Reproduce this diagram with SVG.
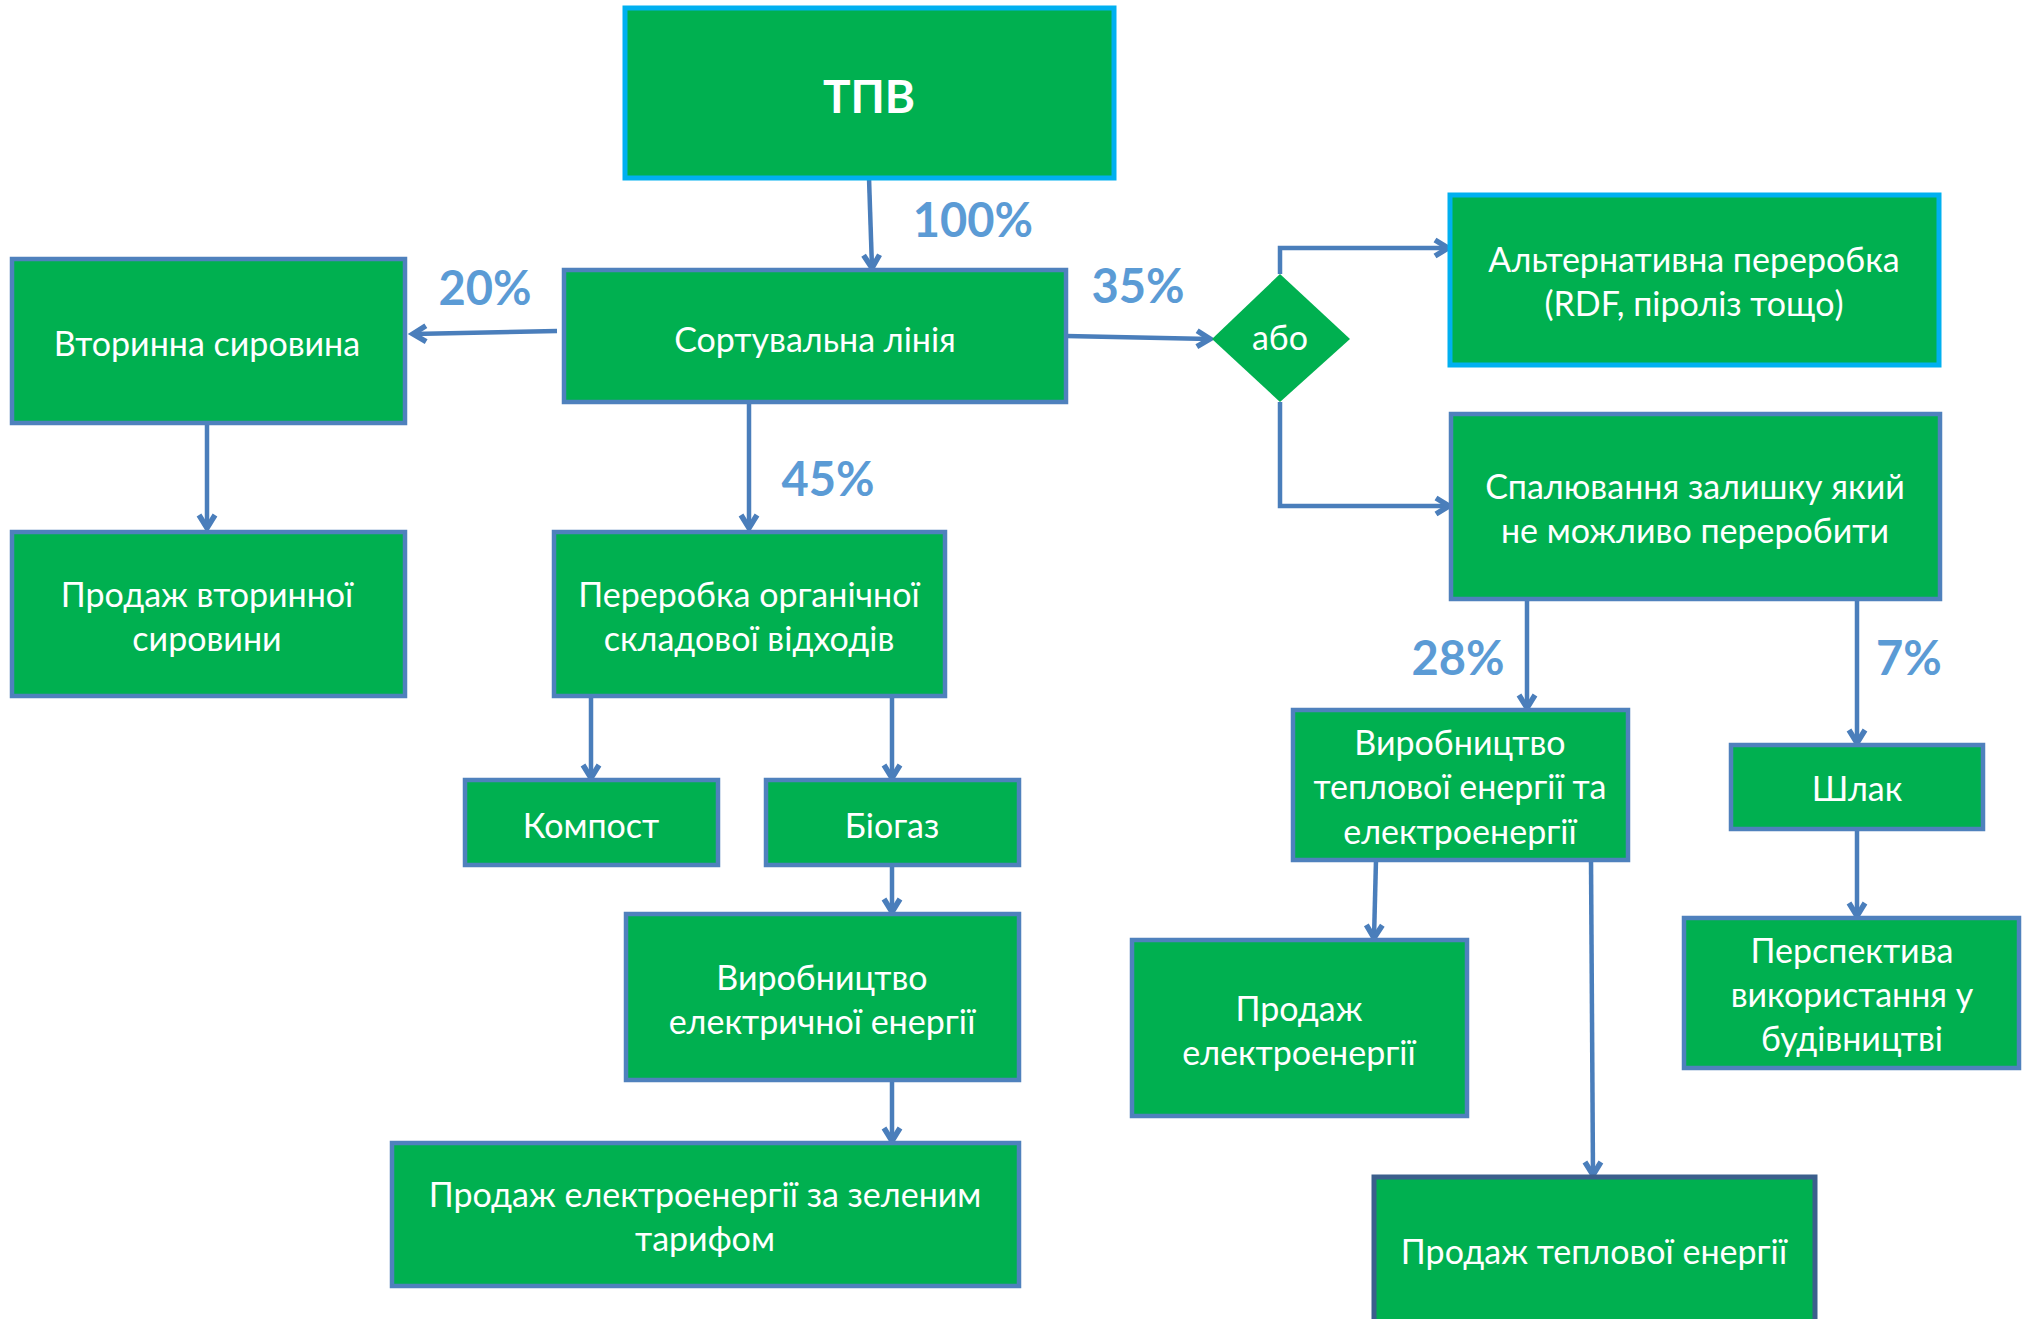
<svg xmlns="http://www.w3.org/2000/svg" width="2028" height="1319" viewBox="0 0 2028 1319">
<defs>
<style>
.n{fill:#00B050;stroke:#4F81BD;stroke-width:4.5}
.c{fill:#00B050;stroke:#00B0F0;stroke-width:5}
.d{fill:#00B050;stroke:#3B5F8C;stroke-width:5}
.t{font-family:Lato,"Liberation Sans",sans-serif;font-size:34px;fill:#FFFFFF;text-anchor:middle}
.b{font-family:Lato,"Liberation Sans",sans-serif;font-size:46px;font-weight:bold;fill:#FFFFFF;text-anchor:middle}
.p{font-family:Lato,"Liberation Sans",sans-serif;font-size:47px;font-weight:bold;fill:#5B9BD5;text-anchor:middle}
.e{fill:none;stroke:#4A7EBB;stroke-width:4.5}
</style>
<marker id="a" markerUnits="userSpaceOnUse" markerWidth="22" markerHeight="22" refX="16" refY="11" orient="auto" viewBox="0 0 22 22">
<path d="M3,3 L16,11 L3,19" fill="none" stroke="#4A7EBB" stroke-width="5.5" stroke-linejoin="miter"/>
</marker>
</defs>
<rect width="2028" height="1319" fill="#FFFFFF"/>
<g id="connectors">
<path class="e" d="M869,178 L872,268" marker-end="url(#a)"/>
<path class="e" d="M557,331 L413,334" marker-end="url(#a)"/>
<path class="e" d="M207,423 L207,528" marker-end="url(#a)"/>
<path class="e" d="M749,402 L749,528" marker-end="url(#a)"/>
<path class="e" d="M1066,336 L1210,339" marker-end="url(#a)"/>
<path class="e" d="M1280,274 L1280,248 L1448,248" marker-end="url(#a)"/>
<path class="e" d="M1280,402 L1280,506 L1449,506" marker-end="url(#a)"/>
<path class="e" d="M591,696 L591,778" marker-end="url(#a)"/>
<path class="e" d="M892,696 L892,778" marker-end="url(#a)"/>
<path class="e" d="M892,865 L892,912" marker-end="url(#a)"/>
<path class="e" d="M892,1080 L892,1141" marker-end="url(#a)"/>
<path class="e" d="M1527,599 L1527,708" marker-end="url(#a)"/>
<path class="e" d="M1857,599 L1857,743" marker-end="url(#a)"/>
<path class="e" d="M1857,829 L1857,916" marker-end="url(#a)"/>
<path class="e" d="M1376,860 L1374,938" marker-end="url(#a)"/>
<path class="e" d="M1591,860 L1593,1175" marker-end="url(#a)"/>
</g>
<g id="labels">
<text class="p" x="973" y="237">100%</text>
<text class="p" x="485" y="305">20%</text>
<text class="p" x="1138" y="303">35%</text>
<text class="p" x="828" y="496">45%</text>
<text class="p" x="1458" y="675">28%</text>
<text class="p" x="1909" y="675">7%</text>
</g>
<g id="tpv"><rect class="c" x="625" y="8" width="489" height="170"/><text class="b" x="869" y="113">ТПВ</text></g>
<g id="sort"><rect class="n" x="564" y="270" width="502" height="132"/><text class="t" x="815" y="352">Сортувальна лінія</text></g>
<g id="vtor"><rect class="n" x="12" y="259" width="393" height="164"/><text class="t" x="207" y="356">Вторинна сировина</text></g>
<g id="prodvtor"><rect class="n" x="12" y="532" width="393" height="164"/><text class="t" x="207" y="607">Продаж вторинної</text><text class="t" x="207" y="651">сировини</text></g>
<g id="organ"><rect class="n" x="554" y="532" width="391" height="164"/><text class="t" x="749" y="607">Переробка органічної</text><text class="t" x="749" y="651">складової відходів</text></g>
<g id="kompost"><rect class="n" x="465" y="780" width="253" height="85"/><text class="t" x="591" y="838">Компост</text></g>
<g id="biogaz"><rect class="n" x="766" y="780" width="253" height="85"/><text class="t" x="892" y="838">Біогаз</text></g>
<g id="virel"><rect class="n" x="626" y="914" width="393" height="166"/><text class="t" x="822" y="990">Виробництво</text><text class="t" x="822" y="1034">електричної енергії</text></g>
<g id="zelen"><rect class="n" x="392" y="1143" width="627" height="143"/><text class="t" x="705" y="1207">Продаж електроенергії за зеленим</text><text class="t" x="705" y="1251">тарифом</text></g>
<g id="abo"><polygon points="1280,274 1350,339 1280,402 1212,339" fill="#00B050"/><text class="t" x="1280" y="350">або</text></g>
<g id="alt"><rect class="c" x="1450" y="195" width="489" height="170"/><text class="t" x="1694" y="272">Альтернативна переробка</text><text class="t" x="1694" y="316">(RDF, піроліз тощо)</text></g>
<g id="spal"><rect class="n" x="1451" y="414" width="489" height="185"/><text class="t" x="1695" y="499">Спалювання залишку який</text><text class="t" x="1695" y="543">не можливо переробити</text></g>
<g id="virtep"><rect class="n" x="1293" y="710" width="335" height="150"/><text class="t" x="1460" y="755">Виробництво</text><text class="t" x="1460" y="799">теплової енергії та</text><text class="t" x="1460" y="844">електроенергії</text></g>
<g id="shlak"><rect class="n" x="1731" y="745" width="252" height="84"/><text class="t" x="1857" y="801">Шлак</text></g>
<g id="persp"><rect class="n" x="1684" y="918" width="335" height="150"/><text class="t" x="1852" y="963">Перспектива</text><text class="t" x="1852" y="1007">використання у</text><text class="t" x="1852" y="1051">будівництві</text></g>
<g id="prodel"><rect class="n" x="1132" y="940" width="335" height="176"/><text class="t" x="1299" y="1021">Продаж</text><text class="t" x="1299" y="1065">електроенергії</text></g>
<g id="prodtep"><rect class="d" x="1374" y="1177" width="441" height="160"/><text class="t" x="1594" y="1264">Продаж теплової енергії</text></g>
</svg>
